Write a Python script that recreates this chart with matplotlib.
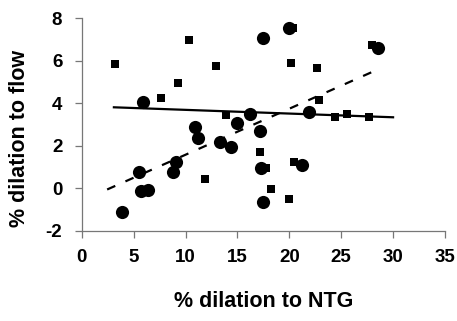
import matplotlib
matplotlib.use("Agg")
import matplotlib.pyplot as plt

plt.rcParams["font.family"] = ["Liberation Sans", "DejaVu Sans"]
plt.rcParams["font.weight"] = "bold"
plt.rcParams["axes.unicode_minus"] = False

# circles
circle_x = [3.86, 5.52, 5.72, 6.36, 8.77, 9.12, 10.93, 11.19, 13.37, 14.37, 15.0,
            16.26, 17.13, 17.29, 17.5, 21.92, 21.27, 19.93, 17.5, 28.54, 5.94]
circle_y = [-1.13, 0.75, -0.13, -0.08, 0.78, 1.25, 2.9, 2.35, 2.19, 1.95, 3.08,
            3.51, 2.69, 0.94, -0.66, 3.57, 1.09, 7.56, 7.09, 6.59, 4.07]

# squares
square_x = [3.21, 7.65, 9.25, 10.38, 12.95, 13.9, 20.18, 22.66, 22.91, 24.43,
            25.55, 27.64, 20.35, 28.0, 11.89, 17.19, 17.77, 18.22, 19.99, 20.41]
square_y = [5.85, 4.26, 4.94, 6.96, 5.75, 3.45, 5.88, 5.67, 4.15, 3.37,
            3.48, 3.37, 7.53, 6.75, 0.42, 1.69, 0.94, -0.05, -0.51, 1.22]

# fitted lines (end points)
solid_x = [3.1, 30.0]
solid_y = [3.81, 3.34]
dashed_x = [2.45, 28.8]
dashed_y = [-0.06, 5.65]

fig = plt.figure(figsize=(4.57, 3.21), dpi=100)
ax = fig.add_axes([0.1788, 0.2813, 0.7949, 0.6617])

ax.scatter(square_x, square_y, marker="s", s=34, color="black", linewidths=0, zorder=3)
ax.scatter(circle_x, circle_y, marker="o", s=90, color="black", linewidths=0, zorder=4)
ax.plot(solid_x, solid_y, color="black", linewidth=1.6, zorder=2)
ax.plot(dashed_x, dashed_y, color="black", linewidth=1.6, dashes=(4, 5), zorder=2)

ax.set_xlim(0, 35)
ax.set_ylim(-2, 8)
ax.set_xticks(range(0, 36, 5))
ax.set_yticks(range(-2, 9, 2))

for side in ["top", "right"]:
    ax.spines[side].set_visible(False)
for side in ["left", "bottom"]:
    ax.spines[side].set_color("#777777")
    ax.spines[side].set_linewidth(0.9)

ax.tick_params(axis="both", direction="out", length=5, width=0.9, color="#777777",
               labelsize=13.5)
ax.tick_params(axis="x", pad=8)
ax.tick_params(axis="y", pad=9)

ax.set_xlabel("% dilation to NTG", fontsize=15.5, fontweight="bold", va="center")
ax.set_ylabel("% dilation to flow", fontsize=15.5, fontweight="bold", va="center")
ax.xaxis.set_label_coords(0.5, -0.331)
ax.yaxis.set_label_coords(-0.170, 0.436)

fig.savefig("out.png", dpi=100)
